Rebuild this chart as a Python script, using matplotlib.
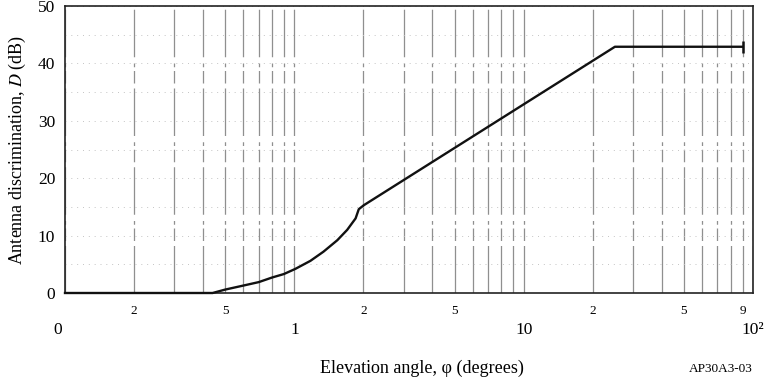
import matplotlib
matplotlib.use("Agg")
import matplotlib.pyplot as plt
import matplotlib.transforms as mtransforms
from matplotlib.ticker import FixedLocator, FixedFormatter, MultipleLocator

# Data
phi = [0.1, 0.2, 0.3, 0.44, 0.50, 0.60, 0.70, 0.80, 0.90, 1.01, 1.175, 1.34, 1.54,
       1.70, 1.85, 1.91, 2.01, 25.0, 90.0]
D = [0.0, 0.0, 0.0, 0.0, 0.6, 1.3, 1.9, 2.7, 3.3, 4.2, 5.6, 7.2, 9.2,
     11.0, 13.0, 14.6, 15.3, 42.9, 42.9]

major_ticks = [0.1, 1, 10, 100]
major_labels = ["0", "1", "10", "10\u00b2"]
minor_ticks = [0.2, 0.3, 0.4, 0.5, 0.6, 0.7, 0.8, 0.9,
               2, 3, 4, 5, 6, 7, 8, 9,
               20, 30, 40, 50, 60, 70, 80, 90]
minor_labels = ["2", "", "", "5", "", "", "", "",
                "2", "", "", "5", "", "", "", "",
                "2", "", "", "5", "", "", "", "9"]
y_ticks = [0, 10, 20, 30, 40, 50]

plt.rcParams["font.family"] = ["Liberation Serif", "DejaVu Serif"]
plt.rcParams["mathtext.fontset"] = "stix"

fig = plt.figure(figsize=(7.68, 3.84), dpi=100)
ax = fig.add_axes([65/768, 1-293/384, (753-65)/768, (293-6)/384])

ax.set_xscale("log")
ax.set_xlim(0.1, 100)
ax.set_ylim(0, 50)

ax.xaxis.set_major_locator(FixedLocator(major_ticks))
ax.xaxis.set_minor_locator(FixedLocator(minor_ticks))
ax.xaxis.set_major_formatter(FixedFormatter(major_labels))
ax.xaxis.set_minor_formatter(FixedFormatter(minor_labels))
ax.yaxis.set_major_locator(FixedLocator(y_ticks))
ax.yaxis.set_minor_locator(MultipleLocator(5))

# faint scanned-looking grid
ax.grid(True, axis="x", which="both", color="#8f8f8f", lw=0.9,
        linestyle=(0, (38, 4, 10, 3, 3, 5)))
ax.grid(True, axis="y", which="both", color="#c4c4c4", lw=0.7,
        linestyle=(0, (1, 5)))
ax.set_axisbelow(True)

ax.plot(phi, D, color="#111111", lw=1.7, solid_joinstyle="round",
        marker="|", markevery=[len(phi)-1], markersize=9, markeredgewidth=1.8,
        zorder=3, clip_on=False)

ax.tick_params(axis="x", which="minor", length=0, pad=9, labelsize=9.5)
ax.tick_params(axis="x", which="major", length=0, pad=21, labelsize=12.5)
ax.tick_params(axis="y", which="major", length=0, pad=7, labelsize=12.5)
ax.tick_params(axis="y", which="minor", length=0)

# first major label sits slightly left of the axis in the reference
first = ax.get_xticklabels()[0]
first.set_transform(first.get_transform() +
                    mtransforms.ScaledTranslation(-7/100, 0, fig.dpi_scale_trans))

for s in ax.spines.values():
    s.set_linewidth(1.2)
    s.set_color("#222222")

ax.set_ylabel("Antenna discrimination, $\\mathit{D}$ (dB)", fontsize=13, labelpad=7)
fig.text(422/768, 1-368/384, "Elevation angle, \u03c6 (degrees)", ha="center",
         va="center", fontsize=13)
fig.text(753/768, 1-369/384, "AP30A3-03", ha="right", va="center", fontsize=9.5)

fig.savefig("out.png", dpi=100)
